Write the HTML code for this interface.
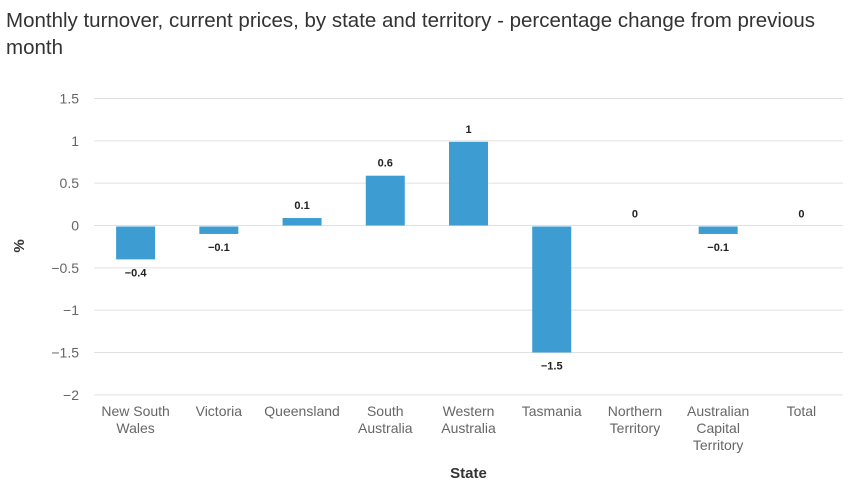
<!DOCTYPE html>
<html><head><meta charset="utf-8"><style>
body{margin:0;background:#fff;font-family:"Liberation Sans","DejaVu Sans",sans-serif;}
#wrap{position:relative;width:849px;height:488px;overflow:hidden}
h1{position:absolute;left:6px;top:7px;margin:0;font-size:20.5px;font-weight:normal;color:#333;line-height:27px;width:835px}
</style></head><body>
<div id="wrap">
<h1>Monthly turnover, current prices, by state and territory - percentage change from previous month</h1>
<svg id="chart" width="849" height="488" style="position:absolute;left:0;top:0"></svg>
</div>
<script>
const categories=[["New South","Wales"],["Victoria"],["Queensland"],["South","Australia"],["Western","Australia"],["Tasmania"],["Northern","Territory"],["Australian","Capital","Territory"],["Total"]];
const values=[-0.4,-0.1,0.1,0.6,1,-1.5,0,-0.1,0];
const yTicks=[1.5,1,0.5,0,-0.5,-1,-1.5,-2];
const yTickLabels=["1.5","1","0.5","0","\u22120.5","\u22121","\u22121.5","\u22122"];
const NS="http://www.w3.org/2000/svg";
const svg=document.getElementById('chart');
const L=94,R=843,zeroY=225.5,unit=84.67;
const y=v=>zeroY-v*unit;
const step=(R-L)/categories.length;
const xc=i=>L+step*(i+0.5);
function mk(t,a,txt){const e=document.createElementNS(NS,t);for(const k in a)e.setAttribute(k,a[k]);if(txt!==undefined)e.textContent=txt;svg.appendChild(e);return e;}
yTicks.forEach((t,i)=>{
 const g=mk('line',{x1:L,x2:R,y1:y(t),y2:y(t),stroke:'#e0e0e0','stroke-width':1});
 
 
 const l=mk('text',{x:79,y:y(t)+5,'text-anchor':'end','font-size':14,fill:'#666'},yTickLabels[i]);
 
 
});
const yt=mk('text',{x:0,y:0,transform:'translate(24,246) rotate(-90)','text-anchor':'middle','font-size':15,'font-weight':'bold',fill:'#333'},'%');


values.forEach((v,i)=>{
 const cx=xc(i),bw=39;
 const top=Math.min(y(v),zeroY),h=Math.abs(y(v)-zeroY);
 if(h>0){const b=mk('rect',{x:cx-bw/2,y:top+1,width:bw,height:Math.max(h-1,0),fill:'#3d9dd3'});
 
 }
 const ly=v>0?y(v)-8:(v<0?y(v)+17:zeroY-8);
 const lb=mk('text',{x:cx,y:ly,'text-anchor':'middle','font-size':11,'font-weight':'bold',fill:'#222'},v<0?'\u2212'+Math.abs(v):String(v));
 
 
 categories[i].forEach((ln,j)=>{
  const c=mk('text',{x:cx,y:416+j*17,'text-anchor':'middle','font-size':14,fill:'#666'},ln);
  
  
 });
});
const xt=mk('text',{x:(L+R)/2,y:478,'text-anchor':'middle','font-size':15,'font-weight':'bold',fill:'#333'},'State');


</script>
</body></html>
